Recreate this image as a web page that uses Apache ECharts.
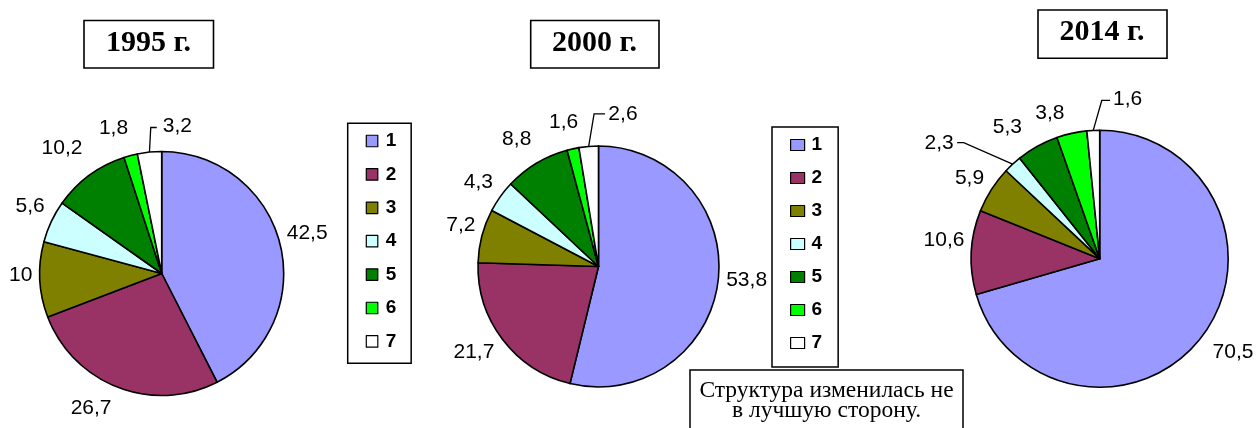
<!DOCTYPE html>
<html><head><meta charset="utf-8">
<script src="https://cdn.jsdelivr.net/npm/echarts@6/dist/echarts.min.js"></script>
<style>html,body{margin:0;padding:0;background:#fff}#c{width:1258px;height:428px}</style>
</head><body><div id="c"></div>
<script>
// ---- data ----
const categories = ['1', '2', '3', '4', '5', '6', '7'];
const years = ['1995 г.', '2000 г.', '2014 г.'];
const values1995 = [42.5, 26.7, 10, 5.6, 10.2, 1.8, 3.2];
const values2000 = [53.8, 21.7, 7.2, 4.3, 8.8, 1.6, 2.6];
const values2014 = [70.5, 10.6, 5.9, 2.3, 5.3, 3.8, 1.6];
const noteText = 'Структура изменилась не\nв лучшую сторону.';

// ---- style / layout ----
const colors = ['#9999FF', '#993366', '#808000', '#CCFFFF', '#008000', '#00FF00', '#FFFFFF'];
const pieGeom = [
  { center: [161.7, 273.5], radius: 122 },
  { center: [598.5, 266.5], radius: 120.5 },
  { center: [1099.7, 258.7], radius: 128.5 }
];
const labelGap = 7;
// per-label nudges relative to the library's label anchor
const labelNudge = [
  [[-0.4, -10.4], [-3.8, 14.5], [-0.5, -4.5], [-0.3, -12.6], [-2.8, -21.9], [-0.7, -21],
   { leader: [1.3, -24.6, 6], gap: 6, dy: -1.5 }],
  [[1.1, -1.7], [-2.7, 8.4], [0.3, -8.8], [-1.6, -10.5], [-1.6, -17.8], [6.8, -19.4],
   { leader: [5.4, -32.6, 11], gap: 3.3, dy: 0 }],
  [[4.5, 12.1], [0.1, -11.4], [-1.4, -7.1], { leader: [-48.9, -21.6, -6.6], gap: 3.4, dy: 1 },
   [-12, -13.2], [-5.6, -13.7], { leader: [8.5, -29.9, 8.3], gap: 3, dy: -0.8 }]
];
const allValues = [values1995, values2000, values2014];
const fmt = v => String(v).replace('.', ',');

function makeLayout(si) {
  return function (params) {
    const spec = labelNudge[si][params.dataIndex];
    const pts = params.labelLinePoints;
    let p0, dir;
    if (pts && pts.length >= 2) {
      p0 = [pts[0][0], pts[0][1]];
      const vx = pts[1][0] - p0[0], vy = pts[1][1] - p0[1];
      const len = Math.hypot(vx, vy) || 1;
      dir = [vx / len, vy / len];
    } else {
      const vals = allValues[si];
      const sum = vals.reduce((a, b) => a + b, 0);
      let cum = 0;
      for (let k = 0; k < params.dataIndex; k++) cum += vals[k];
      const mid = (cum + vals[params.dataIndex] / 2) / sum * Math.PI * 2;
      dir = [Math.sin(mid), -Math.cos(mid)];
      const g = pieGeom[si];
      p0 = [g.center[0] + g.radius * dir[0], g.center[1] + g.radius * dir[1]];
    }
    if (spec.leader) {
      const p1 = [p0[0] + spec.leader[0], p0[1] + spec.leader[1]];
      const p2 = [p1[0] + spec.leader[2], p1[1]];
      const right = spec.leader[2] >= 0;
      return {
        x: p2[0] + (right ? spec.gap : -spec.gap), y: p2[1] + spec.dy,
        align: right ? 'left' : 'right', verticalAlign: 'middle',
        labelLinePoints: [p0, p1, p2]
      };
    }
    const a = [p0[0] + dir[0] * labelGap, p0[1] + dir[1] * labelGap];
    return {
      x: a[0] + spec[0], y: a[1] + spec[1],
      align: dir[0] >= 0 ? 'left' : 'right', verticalAlign: 'middle',
      labelLinePoints: [p0, p0, p0]
    };
  };
}

function makeSeries(si, vals) {
  return {
    type: 'pie',
    center: pieGeom[si].center,
    radius: pieGeom[si].radius,
    startAngle: 90,
    clockwise: true,
    avoidLabelOverlap: false,
    silent: true,
    emphasis: { disabled: true },
    data: categories.map((c, i) => ({ name: c, value: vals[i], itemStyle: { color: colors[i] } })),
    itemStyle: { borderColor: '#000', borderWidth: 1.6 },
    label: {
      show: true, position: 'outside',
      formatter: p => fmt(p.value),
      fontFamily: 'Liberation Sans', fontSize: 21, color: '#000'
    },
    labelLine: { show: true, length: 7, length2: 0, lineStyle: { color: '#000', width: 1.3 } },
    labelLayout: makeLayout(si)
  };
}

const legendText = (padLeft) => ({
  fontFamily: 'Liberation Sans', fontWeight: 'bold', fontSize: 19, lineHeight: 19,
  color: '#000', padding: [0, 0, 0, padLeft]
});

const titleBoxes = [
  { rect: [84, 20.5, 129.5, 47.5], text: [148.5, 43.5] },
  { rect: [530.7, 20.5, 128.3, 47.5], text: [594.5, 43.5] },
  { rect: [1038, 10, 129, 48.3], text: [1102, 32.5] }
];

const graphic = [];
titleBoxes.forEach((b, i) => {
  graphic.push({ type: 'rect', shape: { x: b.rect[0], y: b.rect[1], width: b.rect[2], height: b.rect[3] },
    style: { fill: '#fff', stroke: '#000', lineWidth: 1.6 } });
  graphic.push({ type: 'text', x: b.text[0], y: b.text[1],
    style: { text: years[i], font: 'bold 30px "Liberation Serif"', fill: '#000',
      align: 'center', verticalAlign: 'middle', textAlign: 'center', textVerticalAlign: 'middle' } });
});
graphic.push({ type: 'rect', shape: { x: 690, y: 370, width: 273, height: 80 },
  style: { fill: '#fff', stroke: '#000', lineWidth: 1.5 } });
graphic.push({ type: 'text', x: 826.5, y: 380.4,
  style: { text: noteText, font: '23.5px "Liberation Serif"', lineHeight: 20, fill: '#000',
    align: 'center', verticalAlign: 'top', textAlign: 'center', textVerticalAlign: 'top' } });

const chart = echarts.init(document.getElementById('c'), null, { renderer: 'canvas' });
chart.setOption({
  animation: false,
  backgroundColor: '#fff',
  legend: [
    { data: categories, orient: 'vertical', left: 347.7, top: 123.3, padding: [8.2, 14.8, 12.4, 18],
      itemGap: 14.4, itemWidth: 11.5, itemHeight: 11.5, icon: 'rect', selectedMode: false,
      borderColor: '#000', borderWidth: 1.5,
      itemStyle: { borderColor: '#000', borderWidth: 1.2 }, textStyle: legendText(3) },
    { data: categories, orient: 'vertical', left: 772, top: 127, padding: [8.5, 16, 14.5, 18],
      itemGap: 14, itemWidth: 14, itemHeight: 11, icon: 'rect', selectedMode: false,
      borderColor: '#000', borderWidth: 1.5,
      itemStyle: { borderColor: '#000', borderWidth: 1.2 }, textStyle: legendText(2) }
  ],
  series: [makeSeries(0, values1995), makeSeries(1, values2000), makeSeries(2, values2014)],
  graphic: graphic
});
</script>
</body></html>
